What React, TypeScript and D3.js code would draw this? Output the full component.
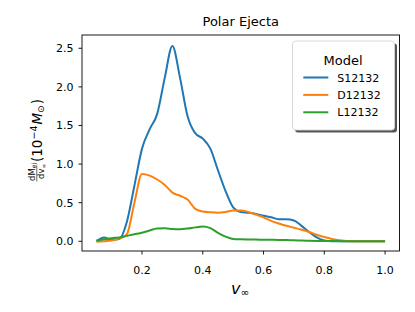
import * as d3 from "d3";
import React from "react";

// velocity grid (v_inf) and ejecta mass distribution per model, in 1e-4 Msun
const velocity = [
  0.05, 0.075, 0.1, 0.125, 0.15, 0.175, 0.2, 0.225, 0.25, 0.275, 0.3, 0.325, 0.35,
  0.375, 0.4, 0.425, 0.45, 0.475, 0.5, 0.525, 0.55, 0.575, 0.6, 0.625, 0.65, 0.675,
  0.7, 0.725, 0.75, 0.775, 0.8, 0.825, 0.85, 0.875, 0.9, 0.925, 0.95, 0.975, 1.0,
];
const s12132 = [
  0.0, 0.05, 0.02, 0.03, 0.25, 0.72, 1.2, 1.45, 1.65, 2.12, 2.53, 2.12, 1.62, 1.4,
  1.33, 1.2, 0.92, 0.65, 0.44, 0.38, 0.37, 0.355, 0.33, 0.31, 0.285, 0.285, 0.27,
  0.2, 0.12, 0.05, 0.01, 0, 0, 0, 0, 0, 0, 0, 0,
];
const d12132 = [
  -0.005, 0.0, 0.01, 0.035, 0.09, 0.5, 0.87, 0.85, 0.8, 0.73, 0.63, 0.59, 0.54, 0.42,
  0.385, 0.375, 0.37, 0.38, 0.4, 0.4, 0.38, 0.345, 0.31, 0.265, 0.23, 0.2, 0.175,
  0.15, 0.12, 0.085, 0.055, 0.03, 0.012, 0.004, 0, 0, 0, 0, 0,
];
const l12132 = [
  0.01, 0.025, 0.04, 0.05, 0.07, 0.09, 0.11, 0.14, 0.165, 0.168, 0.16, 0.157, 0.165,
  0.18, 0.19, 0.17, 0.11, 0.06, 0.03, 0.025, 0.023, 0.022, 0.02, 0.019, 0.017, 0.015,
  0.012, 0.01, 0.007, 0.005, 0.004, 0.003, 0.002, 0.001, 0, 0, 0, 0, 0,
];
const modelNames = ["S12132", "D12132", "L12132"];
const modelColors = ["#1f77b4", "#ff7f0e", "#2ca02c"];
const xTicks = [0.2, 0.4, 0.6, 0.8, 1.0];
const yTicks = [0.0, 0.5, 1.0, 1.5, 2.0, 2.5];

const W = 415;
const H = 312;
const left = 82;
const right = 399.5;
const top = 35;
const bottom = 251;
const font = "DejaVu Sans, sans-serif";

export default function App() {
  const x = d3.scaleLinear().domain([0.0025, 1.0475]).range([left, right]);
  const y = d3.scaleLinear().domain([-0.126, 2.672]).range([bottom, top]);

  const line = d3
    .line<number>()
    .x((_, i) => x(velocity[i]))
    .y((d) => y(d))
    .curve(d3.curveMonotoneX);

  const series = [s12132, d12132, l12132];

  return (
    <svg
      width={W}
      height={H}
      style={{ position: "absolute", left: 0, top: 0, background: "#fff" }}
      fontFamily={font}
    >
      {/* title */}
      <text x={(left + right) / 2} y={26} textAnchor="middle" fontSize={13}>
        Polar Ejecta
      </text>

      {/* curves */}
      {series.map((s, i) => (
        <path
          key={modelNames[i]}
          d={line(s) || ""}
          fill="none"
          stroke={modelColors[i]}
          strokeWidth={2}
          strokeLinejoin="round"
        />
      ))}

      {/* axes frame */}
      <rect
        x={left}
        y={top}
        width={right - left}
        height={bottom - top}
        fill="none"
        stroke="#000"
        strokeWidth={0.9}
      />

      {/* x ticks */}
      {xTicks.map((t) => (
        <g key={"x" + t}>
          <line x1={x(t)} x2={x(t)} y1={bottom} y2={bottom + 3.5} stroke="#000" strokeWidth={0.9} />
          <text x={x(t)} y={274} textAnchor="middle" fontSize={11}>
            {d3.format(".1f")(t)}
          </text>
        </g>
      ))}

      {/* y ticks */}
      {yTicks.map((t) => (
        <g key={"y" + t}>
          <line x1={left - 3.5} x2={left} y1={y(t)} y2={y(t)} stroke="#000" strokeWidth={0.9} />
          <text x={73.5} y={y(t) + 4} textAnchor="end" fontSize={11}>
            {d3.format(".1f")(t)}
          </text>
        </g>
      ))}

      {/* x label */}
      <text x={231} y={294} fontSize={16} fontStyle="italic">
        v
        <tspan fontSize={10.5} fontStyle="normal" dy={2}>
          ∞
        </tspan>
      </text>

      {/* y label */}
      <g transform="rotate(-90)">
        <text x={-181} y={34.5} fontSize={8.5}>
          dM
          <tspan fontSize={6} dy={1.5}>
            ej
          </tspan>
        </text>
        <line x1={-181.5} x2={-165.5} y1={36.8} y2={36.8} stroke="#000" strokeWidth={0.6} />
        <text x={-179} y={44} fontSize={8.5}>
          dv
          <tspan fontSize={6} dy={1.5}>
            ∞
          </tspan>
        </text>
        <text x={-162} y={41.5} fontSize={13.5}>
          (10
          <tspan fontSize={9.5} dy={-5}>
            −4
          </tspan>
          <tspan fontStyle="italic" dy={5} dx={1}>
            M
          </tspan>
          <tspan fontSize={9} dy={2}>
            ⊙
          </tspan>
          <tspan dy={-2} dx={1}>
            )
          </tspan>
        </text>
      </g>

      {/* legend */}
      <rect x={295} y={43.5} width={102} height={89} rx={3} fill="#555" />
      <rect
        x={292.5}
        y={41}
        width={102}
        height={89}
        rx={3}
        fill="#fff"
        stroke="#d6d6d6"
        strokeWidth={0.9}
      />
      <text x={343} y={64.5} textAnchor="middle" fontSize={13}>
        Model
      </text>
      {modelNames.map((name, i) => {
        const ly = 77.5 + i * 17.4;
        return (
          <g key={name}>
            <line x1={303.3} x2={328.3} y1={ly} y2={ly} stroke={modelColors[i]} strokeWidth={2} />
            <text x={337.3} y={ly + 4} fontSize={11}>
              {name}
            </text>
          </g>
        );
      })}
    </svg>
  );
}
